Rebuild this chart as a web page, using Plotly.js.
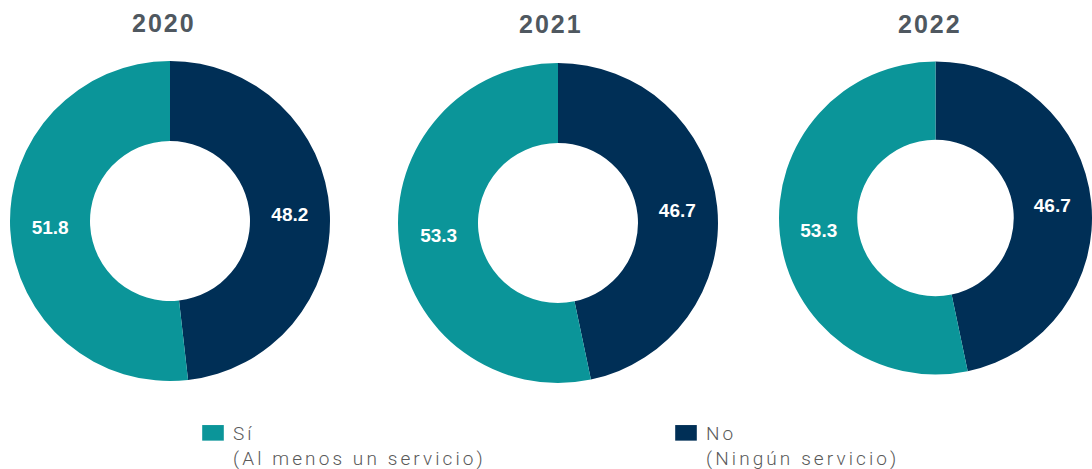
<!DOCTYPE html>
<html>
<head>
<meta charset="utf-8">
<script src="https://cdn.plot.ly/plotly-3.0.1.min.js"></script>
<style>
html,body{margin:0;padding:0;background:#fff;}
#chart{width:1092px;height:469px;}
.annotation-text{letter-spacing:2px;}
.legendtext{letter-spacing:3.1px;}
</style>
</head>
<body>
<div id="chart"></div>
<script>
const years = ["2020", "2021", "2022"];
const categories = ["Sí<br>(Al menos un servicio)", "No<br>(Ningún servicio)"];
const valuesSi = [51.8, 53.3, 53.3];
const valuesNo = [48.2, 46.7, 46.7];
const colors = ["#0B9599", "#002F56"];

const W = 1092, H = 469;
// pie placement in pixels: [centerX, centerY(from top), radius]
const placement = [[170, 221, 160], [558, 223, 160], [936, 218, 157]];

// "No" slice drawn first, clockwise from 12 o'clock, so "Sí" sits on the left
const traces = years.map((yr, i) => {
  const [cx, cy, r] = placement[i];
  const x0 = Math.max(0, (cx - r) / W), x1 = Math.min(1, (cx + r) / W);
  const y0 = (H - cy - r) / H, y1 = (H - cy + r) / H;
  return {
    type: "pie",
    name: yr,
    labels: [categories[1], categories[0]],
    values: [valuesNo[i], valuesSi[i]],
    hole: 0.5,
    sort: false,
    direction: "clockwise",
    rotation: 0,
    marker: {colors: [colors[1], colors[0]], line: {width: 0}},
    textinfo: "value",
    texttemplate: "%{value:.1f}",
    textposition: "inside",
    insidetextorientation: "horizontal",
    textfont: {family: "Liberation Sans, Arial, sans-serif", size: 19, color: "#ffffff", weight: "bold"},
    hoverinfo: "skip",
    showlegend: i === 0,
    domain: {x: [x0, x1], y: [y0, y1]}
  };
});

const titlePos = [[164, 23], [551, 24], [930, 24]];
const annotations = years.map((yr, i) => ({
  text: yr,
  xref: "paper", yref: "paper",
  x: titlePos[i][0] / W, y: 1 - titlePos[i][1] / H,
  xanchor: "center", yanchor: "middle",
  showarrow: false,
  font: {family: "Liberation Sans Narrow, Liberation Sans, Arial, sans-serif", size: 25, color: "#4f5860", weight: "bold"}
}));

const layout = {
  width: W, height: H,
  margin: {l: 0, r: 0, t: 0, b: 0, autoexpand: false},
  paper_bgcolor: "#ffffff",
  showlegend: true,
  legend: {
    orientation: "h",
    x: 193 / W, xanchor: "left",
    y: 1 - 414 / H, yanchor: "top",
    entrywidth: 428, entrywidthmode: "pixels",
    valign: "top",
    traceorder: "reversed",
    font: {family: "Roboto, Liberation Sans, sans-serif", size: 19, color: "#5a5a5a", weight: 300},
    bgcolor: "rgba(0,0,0,0)"
  },
  annotations: annotations
};

Plotly.newPlot("chart", traces, layout, {displayModeBar: false, staticPlot: true}).then(() => {
  document.querySelectorAll(".legendpoints path").forEach(p => {
    p.setAttribute("transform", "translate(20,0) scale(1.8,1.3)");
  });
});
</script>
</body>
</html>
